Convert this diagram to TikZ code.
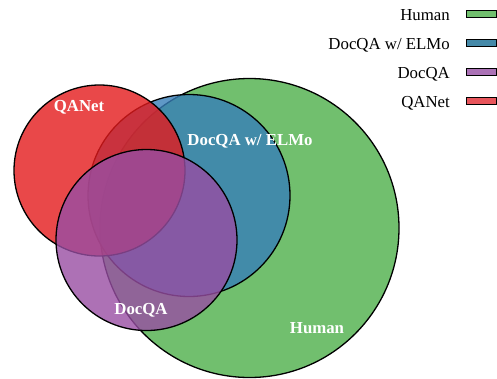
\documentclass[tikz,border=0pt]{standalone}
\usepackage{fontspec}
\setmainfont{Liberation Serif}
\definecolor{cgreen}{HTML}{4DAF4A}
\definecolor{cblue}{HTML}{377EB8}
\definecolor{cred}{HTML}{E41A1C}
\definecolor{cpurple}{HTML}{984EA3}
\definecolor{lgreen}{HTML}{71BF6E}
\definecolor{lblue}{HTML}{4589A8}
\definecolor{lpurple}{HTML}{AB72B6}
\definecolor{lred}{HTML}{E8555B}
\tikzset{
  setcircle/.style={circle, draw=black, line width=1.3pt, fill opacity=0.8, inner sep=0pt, minimum size=#1},
  setlabel/.style={text=white, font=\bfseries\fontsize{16.8}{20}\selectfont, inner sep=0pt},
  legtext/.style={anchor=base east, font=\fontsize{16.8}{20}\selectfont, inner sep=0pt},
  legbox/.style={draw=black, line width=1pt, minimum width=30pt, minimum height=7pt, inner sep=0pt}
}
\begin{document}
\begin{tikzpicture}[x=1pt,y=-1pt]
\useasboundingbox (0,0) rectangle (497,378);
\node[setcircle=299pt, fill=cgreen] (human) at (249.5,228) {};
\node[setcircle=202pt, fill=cblue] (elmo) at (189,195.5) {};
\node[setcircle=171pt, fill=cred] (qanet) at (99.5,170.5) {};
\node[setcircle=181pt, fill=cpurple] (docqa) at (146.5,240) {};
\node[setlabel] (lqanet) at (79,107) {QANet};
\node[setlabel] (lelmo) at (250,141) {DocQA w/ ELMo};
\node[setlabel] (ldocqa) at (141,310) {DocQA};
\node[setlabel] (lhuman) at (317,328) {Human};
\node[legtext] (t1) at (450,20.5) {Human};
\node[legtext] (t2) at (450,49.5) {DocQA w/ ELMo};
\node[legtext] (t3) at (450,78.5) {DocQA};
\node[legtext] (t4) at (450,107.5) {QANet};
\node[legbox, fill=lgreen] (b1) at (481,14.2) {};
\node[legbox, fill=lblue] (b2) at (481,43.2) {};
\node[legbox, fill=lpurple] (b3) at (481,72.2) {};
\node[legbox, fill=lred] (b4) at (481,101.2) {};
\end{tikzpicture}
\end{document}
